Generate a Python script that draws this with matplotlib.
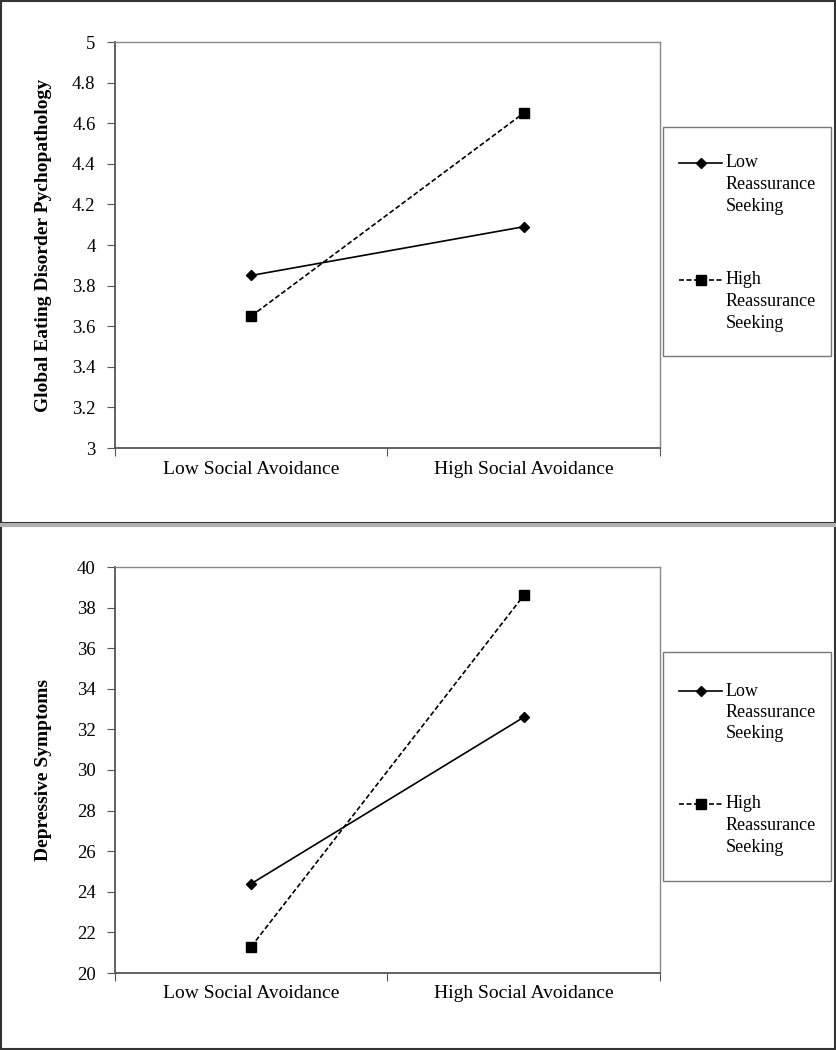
import matplotlib.pyplot as plt
from matplotlib.patches import Rectangle
from matplotlib.lines import Line2D

plt.rcParams['font.family'] = ['Liberation Serif', 'DejaVu Serif']

# data
categories = ['Low Social Avoidance', 'High Social Avoidance']
series_names = [['Low', 'Reassurance', 'Seeking'], ['High', 'Reassurance', 'Seeking']]
ed_low_rs = [3.85, 4.09]
ed_high_rs = [3.65, 4.65]
dep_low_rs = [24.4, 32.6]
dep_high_rs = [21.3, 38.6]

W, H = 837, 1050
fig = plt.figure(figsize=(W/100, H/100), dpi=100)


def fx(px):
    return px / W


def fy(py):
    return 1 - py / H


# panel frames
fig.patches.append(Rectangle((0.001, fy(523)), 0.997, 523/H - 0.001,
                             transform=fig.transFigure, fill=False, ec='#333333', lw=1.5))
fig.patches.append(Rectangle((0.001, 0.001), 0.997, (H - 527)/H,
                             transform=fig.transFigure, fill=False, ec='#333333', lw=1.5))
fig.patches.append(Rectangle((0, fy(527)), 1, 4/H, transform=fig.transFigure,
                             color='#b0b0b0', lw=0))

dash = (0, (3, 1.5))


def panel(top, low, high, ylim, yticks, ylabel, leg_top, leg_bot, hy):
    ax = fig.add_axes([fx(115), fy(top + 406), fx(545), 406/H])
    x = [0.5, 1.5]
    ax.plot(x, low, color='black', lw=1.2, marker='D', ms=5.5)
    ax.plot(x, high, color='black', lw=1.2, ls=dash, marker='s', ms=7)
    ax.set_xlim(0, 2)
    ax.set_ylim(*ylim)
    ax.set_yticks(yticks)
    ax.set_yticklabels([('%g' % t) for t in yticks], fontsize=13.5)
    ax.set_xticks([0, 1, 2])
    ax.set_xticklabels([])
    ax.set_xticks(x, minor=True)
    ax.set_xticklabels(categories, minor=True, fontsize=14)
    ax.tick_params(axis='x', which='minor', length=0, pad=9)
    ax.tick_params(axis='x', which='major', length=6, color='#555555', direction='out')
    ax.tick_params(axis='y', length=6, color='#555555', direction='out', pad=8)
    for s in ['left', 'bottom']:
        ax.spines[s].set_color('#555555')
        ax.spines[s].set_linewidth(1.3)
    for s in ['top', 'right']:
        ax.spines[s].set_color('#888888')
        ax.spines[s].set_linewidth(1.0)
    ax.set_ylabel(ylabel, fontsize=14, fontweight='bold')
    ax.yaxis.set_label_coords(-0.116, 0.5)

    # legend drawn by hand so the handle sits on the first text line
    fig.patches.append(Rectangle((fx(663), fy(leg_bot)), fx(168), (leg_bot - leg_top)/H,
                                 transform=fig.transFigure, fill=False, ec='#777777', lw=1.0))
    styles = [dict(ls='-', marker='D', ms=5.5), dict(ls=dash, marker='s', ms=7)]
    for y0, st, lines in zip(hy, styles, series_names):
        fig.add_artist(Line2D([fx(679), fx(722)], [fy(y0), fy(y0)], color='black', lw=1.2,
                              ls=st['ls'], transform=fig.transFigure))
        fig.add_artist(Line2D([fx(701)], [fy(y0)], color='black', marker=st['marker'],
                              ms=st['ms'], transform=fig.transFigure))
        for i, t in enumerate(lines):
            fig.text(fx(726), fy(y0 + i * 21.5), t, fontsize=13, ha='left', va='center')
    return ax


panel(42, ed_low_rs, ed_high_rs, (3, 5),
      [3, 3.2, 3.4, 3.6, 3.8, 4, 4.2, 4.4, 4.6, 4.8, 5],
      'Global Eating Disorder Pychopathology', 127, 356, (163, 280))

panel(567, dep_low_rs, dep_high_rs, (20, 40),
      [20, 22, 24, 26, 28, 30, 32, 34, 36, 38, 40],
      'Depressive Symptoms', 652, 881, (691, 804))

fig.savefig('out.png', dpi=100)
